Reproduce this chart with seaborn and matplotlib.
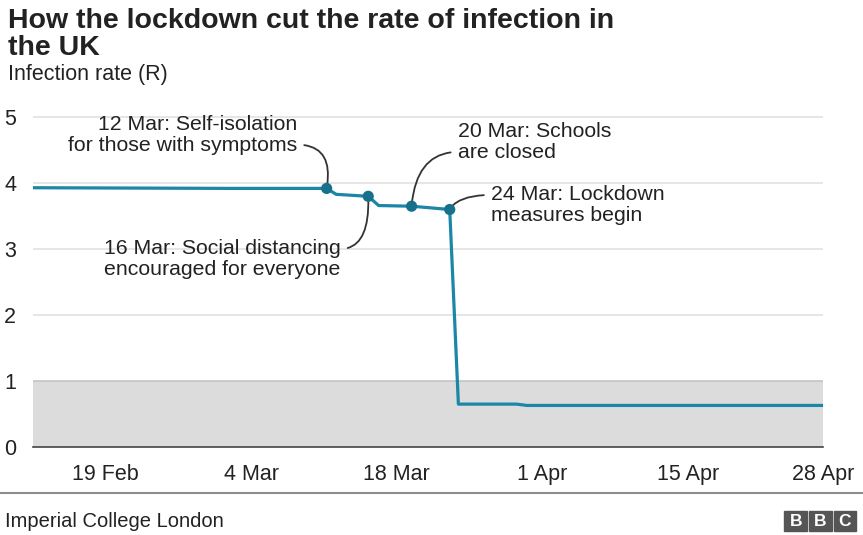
import numpy as np
import pandas as pd
import matplotlib.pyplot as plt
import seaborn as sns

# R estimate (positions as drawn)
dates = ["2020-02-12 00:00", "2020-03-02 00:00", "2020-03-11 06:00", "2020-03-12 04:00",
         "2020-03-15 06:00", "2020-03-16 06:00", "2020-03-19 10:00", "2020-03-23 02:00",
         "2020-03-23 22:00", "2020-03-29 12:00", "2020-03-30 12:00", "2020-04-28 00:00"]
r_values = [3.93, 3.92, 3.92, 3.83, 3.80, 3.66, 3.65, 3.60, 0.65, 0.65, 0.63, 0.63]

event_dates = ["2020-03-11 06:00", "2020-03-15 06:00", "2020-03-19 10:00", "2020-03-23 02:00"]
event_r = [3.92, 3.80, 3.65, 3.60]
event_labels = ["12 Mar: Self-isolation\nfor those with symptoms",
                "16 Mar: Social distancing\nencouraged for everyone",
                "20 Mar: Schools\nare closed",
                "24 Mar: Lockdown\nmeasures begin"]

tick_dates = ["2020-02-19", "2020-03-04", "2020-03-18", "2020-04-01", "2020-04-15", "2020-04-28"]
tick_labels = ["19 Feb", "4 Mar", "18 Mar", "1 Apr", "15 Apr", "28 Apr"]

df = pd.DataFrame({"date": pd.to_datetime(dates), "R": r_values})
ev = pd.DataFrame({"date": pd.to_datetime(event_dates), "R": event_r})

sns.set_style("white")
plt.rcParams["font.family"] = ["Liberation Sans", "DejaVu Sans"]

line_col = "#1b86a6"
txt_col = "#222222"

fig = plt.figure(figsize=(8.63, 5.35), dpi=100)
ax = fig.add_axes([0.038, 0.1645, 0.916, 0.619])

ax.axhspan(0, 1, color="#dcdcdc", zorder=0, lw=0)
for yv in [1, 2, 3, 4, 5]:
    ax.axhline(yv, color="#e2e2e2" if yv > 1 else "#c4c4c4", lw=1.2, zorder=0.5)

sns.lineplot(data=df, x="date", y="R", ax=ax, color=line_col, lw=2.3, zorder=3)
sns.scatterplot(data=ev, x="date", y="R", ax=ax, color="#17708c", s=65,
                edgecolor="none", zorder=4)

ax.set_xlim(pd.Timestamp("2020-02-12"), pd.Timestamp("2020-04-28"))
ax.set_ylim(0, 5.02)

ax.set_xticks(pd.to_datetime(tick_dates))
ax.set_xticklabels(tick_labels, fontsize=15.5, color=txt_col)
ax.set_yticks([0, 1, 2, 3, 4, 5])
ax.set_yticklabels(["0", "1", "2", "3", "4", "5"], fontsize=15.5, color=txt_col)
ax.tick_params(axis="y", length=0, pad=12)
ax.tick_params(axis="x", length=6, width=1, color="#444444", pad=6, direction="out")
ax.set_xlabel("")
ax.set_ylabel("")
for s in ["top", "right", "left"]:
    ax.spines[s].set_visible(False)
ax.spines["bottom"].set_color("#444444")
ax.spines["bottom"].set_linewidth(1.2)

# annotations
ann = dict(fontsize=15.3, color=txt_col, linespacing=1.12, textcoords="axes fraction")
arrow = dict(arrowstyle="-", color="#333333", lw=1.3, shrinkA=3, shrinkB=2)
ax.annotate(event_labels[0], xy=(ev["date"][0], ev["R"][0]),
            xytext=(0.334, 0.943), ha="right", va="center", **ann,
            arrowprops=dict(arrow, connectionstyle="angle3,angleA=0,angleB=80",
                            relpos=(1.0, 0.25)))
ax.annotate(event_labels[1], xy=(ev["date"][1], ev["R"][1]),
            xytext=(0.389, 0.568), ha="right", va="center", **ann,
            arrowprops=dict(arrow, connectionstyle="angle3,angleA=0,angleB=-88",
                            relpos=(1.0, 0.75)))
ax.annotate(event_labels[2], xy=(ev["date"][2], ev["R"][2]),
            xytext=(0.538, 0.921), ha="left", va="center", **ann,
            arrowprops=dict(arrow, connectionstyle="angle3,angleA=0,angleB=85",
                            relpos=(0.0, 0.25)))
ax.annotate(event_labels[3], xy=(ev["date"][3], ev["R"][3]),
            xytext=(0.580, 0.731), ha="left", va="center", **ann,
            arrowprops=dict(arrow, connectionstyle="angle3,angleA=0,angleB=60",
                            relpos=(0.0, 0.75)))

fig.text(0.009, 0.985, "How the lockdown cut the rate of infection in\nthe UK",
         fontsize=20.5, fontweight="bold", color="#222222", va="top", ha="left",
         linespacing=1.05)
fig.text(0.009, 0.86, "Infection rate (R)", fontsize=15.5, color=txt_col,
         va="center", ha="left")

# footer
fig.add_artist(plt.Line2D([0, 1], [0.078, 0.078], color="#8c8c8c", lw=1.5,
                          transform=fig.transFigure))
fig.text(0.006, 0.025, "Imperial College London", fontsize=14.5, color=txt_col,
         va="center", ha="left")
for i, letter in enumerate("BBC"):
    x0 = 0.909 + i * 0.0285
    fig.add_artist(plt.Rectangle((x0, 0.008), 0.026, 0.036, color="#555555",
                                 transform=fig.transFigure))
    fig.text(x0 + 0.013, 0.026, letter, fontsize=12.5, fontweight="bold", color="white",
             ha="center", va="center")

fig.savefig("out.png", dpi=100)
